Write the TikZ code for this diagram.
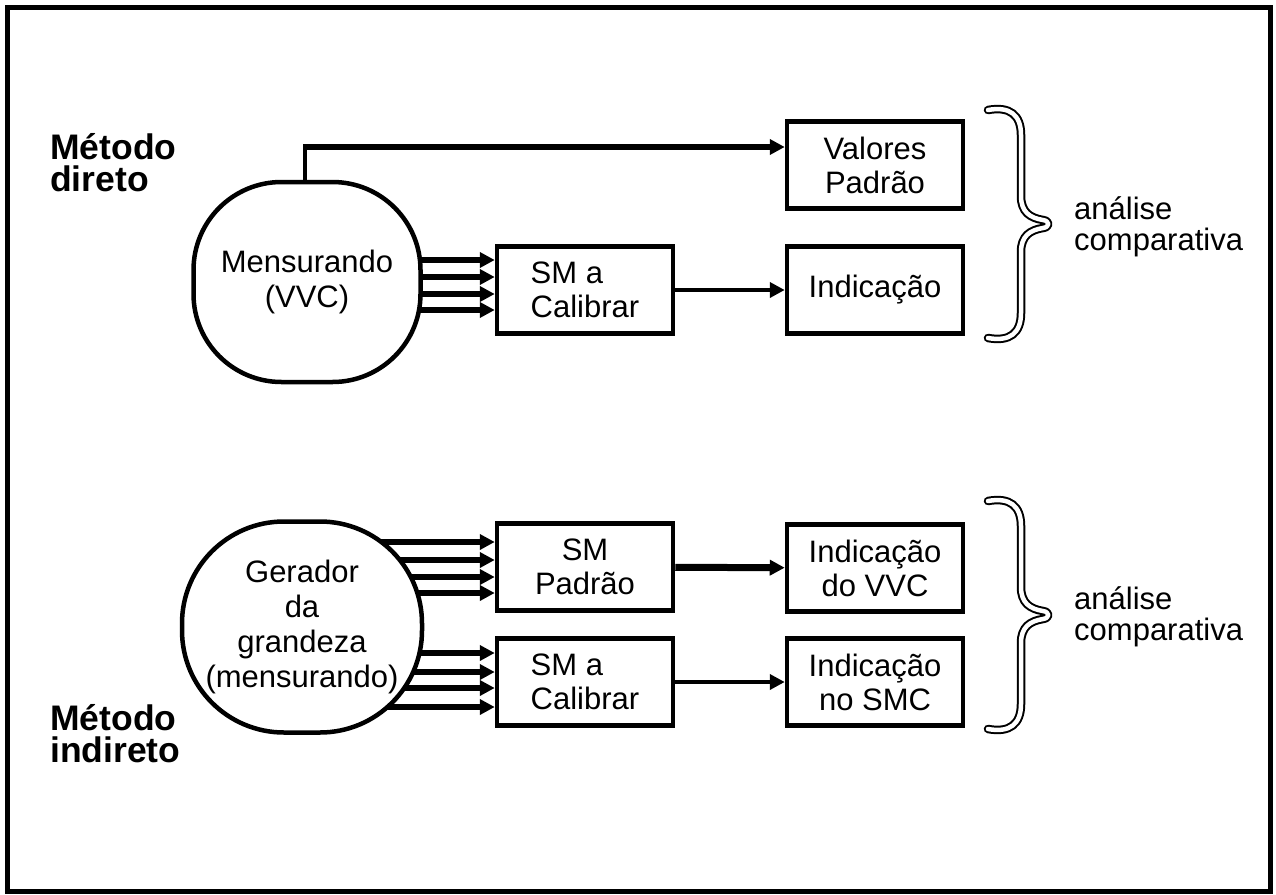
\documentclass[tikz,border=0pt]{standalone}
\usepackage{fontspec}
\setmainfont{Liberation Sans}
\usetikzlibrary{arrows.meta,backgrounds}

\begin{document}
\begin{tikzpicture}[
  x=1pt, y=-1pt,
  frame/.style={line width=5pt},
  blob/.style={draw, line width=4.5pt, fill=white, rounded corners=88pt, align=center,
    font=\fontsize{31}{35}\selectfont},
  box/.style={draw, line width=4.5pt, fill=white, minimum width=176pt, minimum height=87pt,
    align=center, font=\fontsize{31}{34}\selectfont},
  bus/.style={line width=6pt, -{Triangle[length=15pt,width=15pt]}},
  link/.style={line width=4.5pt, -{Triangle[length=15pt,width=15pt]}},
  riser/.style={line width=4pt},
  brace/.style={line width=2pt, double=white, double distance=4.5pt, line join=round, line cap=round},
  method/.style={anchor=west, inner sep=0pt, align=left, font=\fontsize{35.5}{32}\selectfont\bfseries},
  remark/.style={anchor=west, inner sep=0pt, align=left, font=\fontsize{31}{31}\selectfont}
]
  \useasboundingbox (0,0) rectangle (1276,894);
  \draw[frame] (7,7) rectangle (1270,891);

  % Direct method
  \node[method] (direto) at (50,163) {Método\\direto};
  \node[blob, minimum width=227pt, minimum height=200pt] (mens) at (307,282) {Mensurando\\(VVC)};
  \node[box, align=left] (smcal) at (585,290) {SM a\\Calibrar};
  \node[box] (valores) at (875,165) {Valores\\Padrão};
  \node[box] (indic) at (875,290) {Indicação};

  \coordinate (bend) at (305,147);
  \draw[riser] (mens.north -| bend) -- (bend);
  \draw[link, line width=6.5pt, shorten <=-2pt] (bend) -- (valores.west |- bend);
  \draw[link] (smcal) -- (indic);

  % Indirect method
  \node[method] (indireto) at (50,734) {Método\\indireto};
  \node[blob, rounded corners=102pt, minimum width=240pt, minimum height=211pt] (gerador) at (302,627)
    {Gerador\\da\\grandeza\\(mensurando)};
  \node[box] (smpad) at (585,567) {SM\\Padrão};
  \node[box, align=left] (smcal2) at (585,682) {SM a\\Calibrar};
  \node[box] (indvvc) at (875,568) {Indicação\\do VVC};
  \node[box] (indsmc) at (875,682) {Indicação\\no SMC};

  \draw[link, line width=7pt] (smpad) -- (indvvc);
  \draw[link] (smcal2) -- (indsmc);

  % signal buses, hidden behind the blobs
  \begin{pgfonlayer}{background}
    \foreach \y in {260,277,294,310}
      \draw[bus] (mens.center |- 0,\y) -- (smcal.west |- 0,\y);
    \foreach \y in {542,560,577,593}
      \draw[bus] (gerador.center |- 0,\y) -- (smpad.west |- 0,\y);
    \foreach \y in {653,672,688,707}
      \draw[bus] (gerador.center |- 0,\y) -- (smcal2.west |- 0,\y);
  \end{pgfonlayer}

  % comparison braces
  \begin{scope}[shift={(0,224)}]
    \draw[brace] (988,-114) .. controls (1010,-118) and (1021,-109) .. (1021,-89)
      -- (1021,-28) .. controls (1021,-12) and (1030,-6) .. (1043,-4)
      .. controls (1050,-3) and (1050,3) .. (1043,4)
      .. controls (1030,6) and (1021,12) .. (1021,28)
      -- (1021,89) .. controls (1021,109) and (1010,118) .. (988,114);
  \end{scope}
  \node[remark] (cmp1) at (1074,227) {análise\\comparativa};

  \begin{scope}[shift={(0,615)}]
    \draw[brace] (988,-114) .. controls (1010,-118) and (1021,-109) .. (1021,-89)
      -- (1021,-28) .. controls (1021,-12) and (1030,-6) .. (1043,-4)
      .. controls (1050,-3) and (1050,3) .. (1043,4)
      .. controls (1030,6) and (1021,12) .. (1021,28)
      -- (1021,89) .. controls (1021,109) and (1010,118) .. (988,114);
  \end{scope}
  \node[remark] (cmp2) at (1074,617) {análise\\comparativa};
\end{tikzpicture}
\end{document}
